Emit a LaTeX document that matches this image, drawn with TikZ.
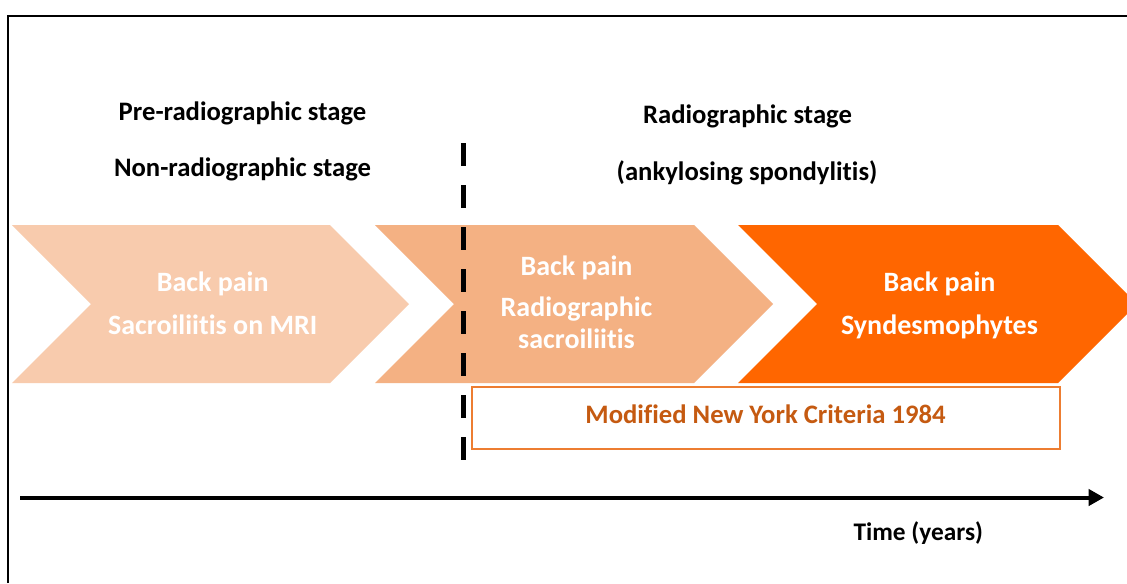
\documentclass[tikz,border=0pt]{standalone}
\usepackage{fontspec}
\setmainfont{Carlito}[Ligatures=NoCommon]
\usetikzlibrary{arrows.meta}
\definecolor{chevA}{HTML}{F8CBAD}
\definecolor{chevB}{HTML}{F4B183}
\definecolor{chevC}{HTML}{FF6600}
\definecolor{boxline}{HTML}{ED7D31}
\definecolor{boxtext}{HTML}{C55A11}
\tikzset{
  chevtext/.style={anchor=base, text=white, font=\fontsize{21}{25}\selectfont\bfseries, inner sep=0pt},
  headtext/.style={anchor=base, text=black, font=\fontsize{20}{24}\selectfont\bfseries, inner sep=0pt},
  timetext/.style={anchor=base, text=black, font=\fontsize{19}{23}\selectfont\bfseries, inner sep=0pt},
  frameline/.style={line width=1.5pt, black},
}
\begin{document}
\begin{tikzpicture}[x=0.75pt,y=-0.75pt]
\useasboundingbox (0,0) rectangle (1127,583);
\clip (0,0) rectangle (1127,583);
\fill[white] (0,0) rectangle (1127,583);
% frame
\draw[frameline] (7.5,583) -- (7.5,15.5) -- (1127,15.5);
% chevrons
\fill[chevA] (12,225) -- (330,225) -- (409,304) -- (330,383) -- (12,383) -- (91,304) -- cycle;
\fill[chevB] (375,225) -- (694,225) -- (773,304) -- (694,383) -- (375,383) -- (454,304) -- cycle;
\fill[chevC] (738,225) -- (1058,225) -- (1137,304) -- (1058,383) -- (738,383) -- (817,304) -- cycle;
% headings
\node[headtext] (pre) at (242.5,120.7) {Pre-radiographic stage};
\node[headtext] (non) at (242.5,176) {Non-radiographic stage};
\node[headtext] (rad) at (747.5,123.3) {Radiographic stage};
\node[headtext] (ank) at (747,180.7) {(ankylosing spondylitis)};
% chevron texts
\node[chevtext] (a1) at (212.7,291) {Back pain};
\node[chevtext] (a2) at (212.7,334) {Sacroiliitis on MRI};
\node[chevtext] (b1) at (576.5,275.7) {Back pain};
\node[chevtext] (b2) at (576.5,316.7) {Radiographic};
\node[chevtext] (b3) at (576.5,348) {sacroiliitis};
\node[chevtext] (c1) at (939.5,291) {Back pain};
\node[chevtext] (c2) at (939.5,334) {Syndesmophytes};
% dashed divider
\coordinate (dtop) at (463,143);
\coordinate (dbot) at (463,461);
\draw[line width=3.75pt, dash pattern=on 17.25pt off 14.25pt] (dtop) -- (dbot);
% criteria box
\node[draw=boxline, line width=1.5pt, fill=white, minimum width=441pt, minimum height=46.5pt, inner sep=0pt] (crit) at (765.5,418) {};
\node[anchor=base, text=boxtext, font=\fontsize{20}{24}\selectfont\bfseries, inner sep=0pt] (crittext) at (765.5,423) {Modified New York Criteria 1984};
% time axis
\coordinate (tstart) at (20,497.5);
\coordinate (tend) at (1104,497.5);
\draw[line width=3pt, -{Triangle[length=11.5pt,width=12pt]}] (tstart) -- (tend);
\node[timetext] (time) at (918.3,540) {Time (years)};
\end{tikzpicture}
\end{document}
